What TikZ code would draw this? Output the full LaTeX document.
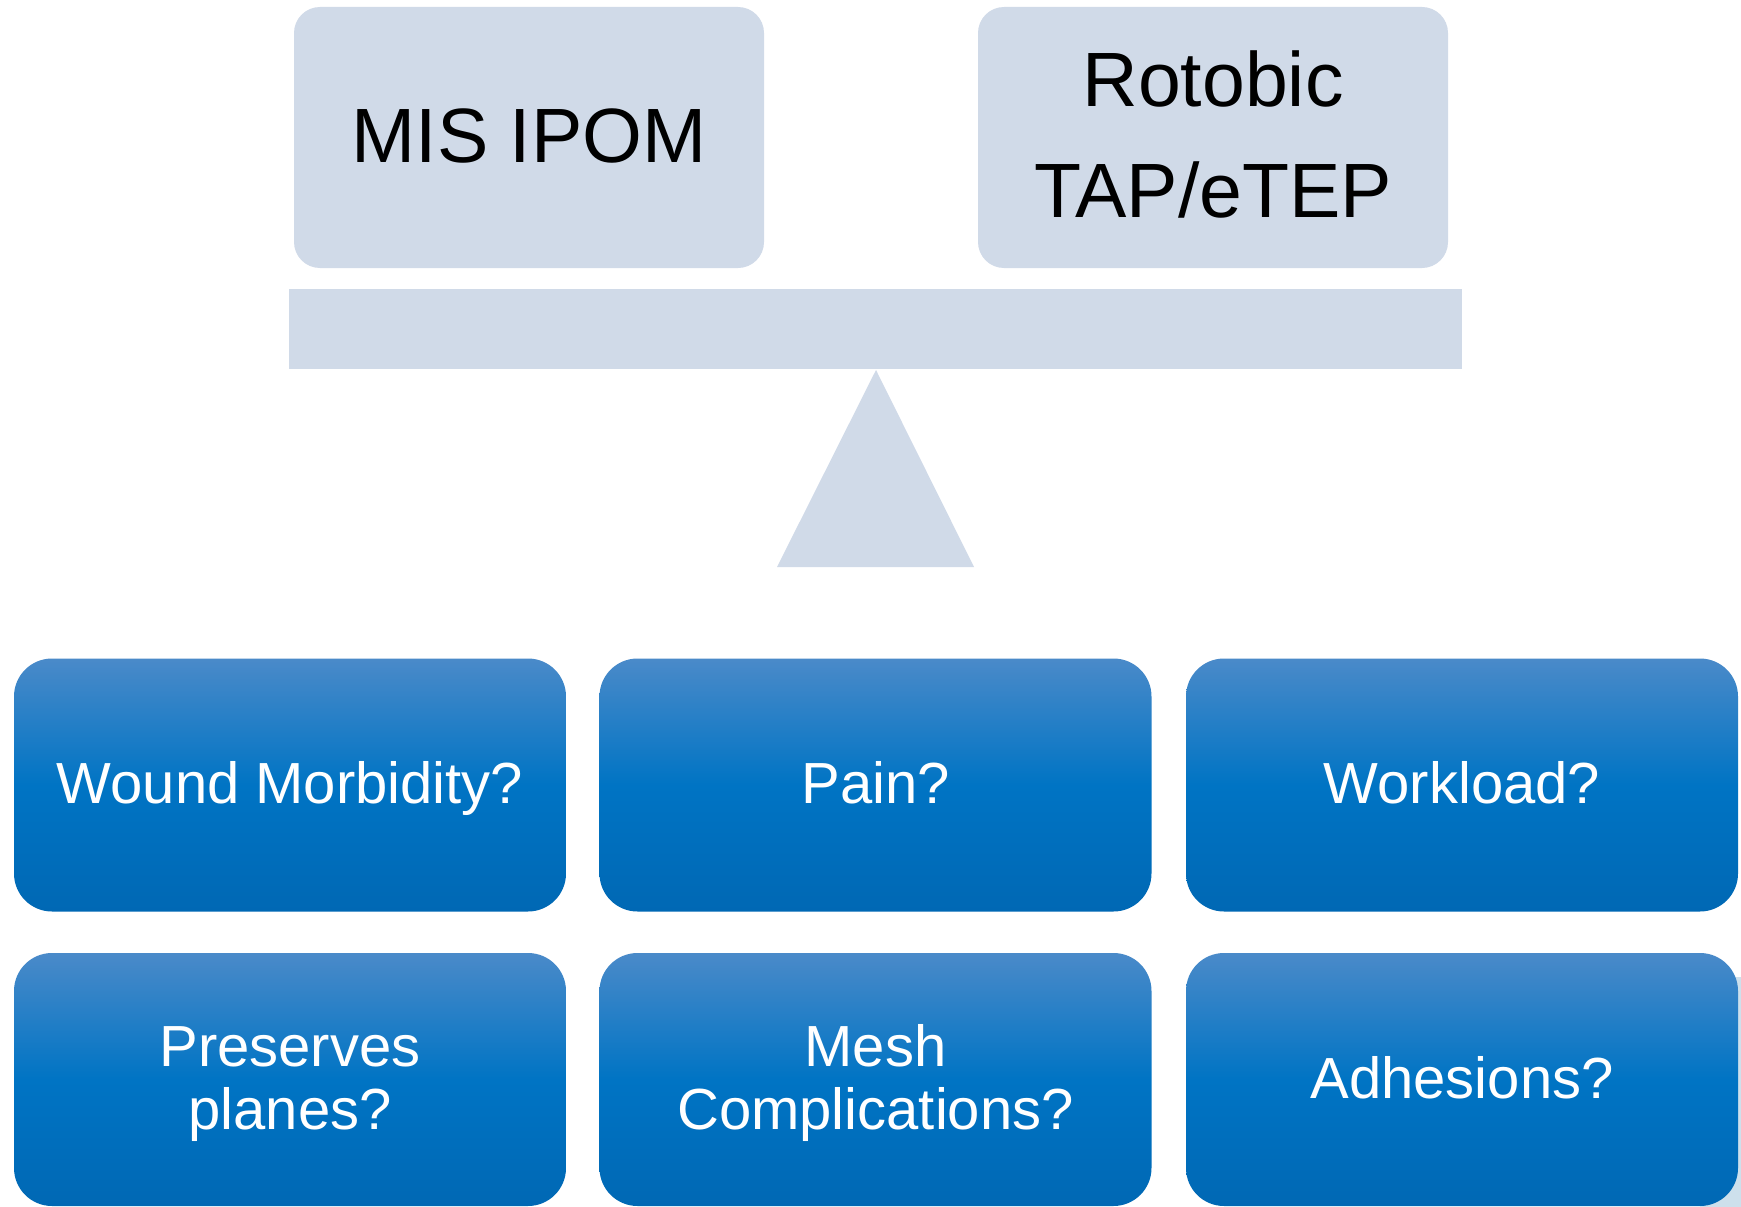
\documentclass[tikz,border=0pt]{standalone}
\usepackage{fontspec}
\setmainfont{Liberation Sans}
\definecolor{topfill}{RGB}{208,218,232}
\definecolor{qtop}{RGB}{74,138,201}
\definecolor{qmid}{RGB}{0,116,196}
\definecolor{qbot}{RGB}{0,104,180}
\definecolor{stripfill}{RGB}{205,224,236}
% struts that fix where the text sits inside its box
\newcommand{\qhi}{\rule{0pt}{50pt}}
\newcommand{\qlo}{\rule[-12.5pt]{0pt}{12.5pt}}
\newcommand{\thi}{\rule{0pt}{60pt}}
\newcommand{\tlo}{\rule[-11pt]{0pt}{11pt}}
\begin{document}
\begin{tikzpicture}[x=1pt,y=-1pt,
  topbox/.style={fill=topfill, draw=none, rounded corners=26pt, minimum width=470pt, minimum height=261pt, inner sep=0pt, align=center, font=\fontsize{77}{111}\selectfont, text=black},
  qbox/.style={draw=none, rounded corners=38pt, minimum width=552pt, minimum height=253pt, inner sep=0pt, align=center, top color=qtop, bottom color=qbot, middle color=qmid, font=\fontsize{58}{63}\selectfont, text=white},
  beamstyle/.style={fill=topfill, draw=none, minimum width=1173pt, minimum height=80pt, inner sep=0pt},
]
\useasboundingbox (0,0) rectangle (1741,1207);
\fill[white] (0,0) rectangle (1741,1207);
% light strip behind the last box
\fill[stripfill] (1700,977) rectangle (1741,1207);

% balance
\node[topbox] (mis) at (529,137.5) {\thi\tlo MIS IPOM};
\node[topbox] (rob) at (1213,137.5) {\thi Rotobic\\TAP/eTEP\tlo};
\node[beamstyle] (beam) at (875.5,329) {};
\coordinate (apex) at (876,370);
\coordinate (bl) at (777,567);
\coordinate (br) at (974,567);
\fill[topfill] (apex) -- (br) -- (bl) -- cycle;

% question boxes
\node[qbox] (wound) at (290,785) {\qhi\qlo Wound Morbidity?};
\node[qbox] (pain) at (875.5,785) {\qhi\qlo Pain?};
\node[qbox] (work) at (1462,785) {\qhi\qlo Workload?};
\node[qbox] (planes) at (290,1079.5) {\qhi Preserves\\planes?\qlo};
\node[qbox] (mesh) at (875.5,1079.5) {\qhi Mesh\\Complications?\qlo};
\node[qbox] (adh) at (1462,1079.5) {\qhi\qlo Adhesions?};
\end{tikzpicture}
\end{document}
